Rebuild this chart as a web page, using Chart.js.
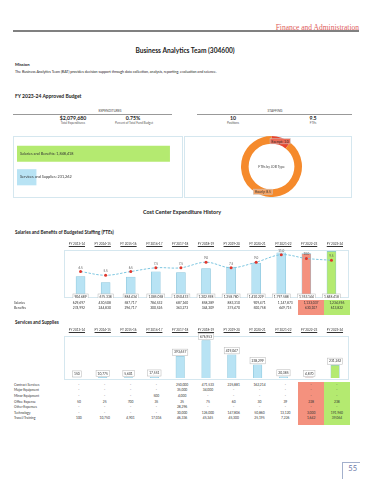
<!DOCTYPE html>
<html>
<head>
<meta charset="utf-8">
<script src="https://cdn.jsdelivr.net/npm/chart.js@4.4.1/dist/chart.umd.min.js"></script>
<style>
body{margin:0;background:#fff;font-family:Lato,'Open Sans',sans-serif;color:#222}
#page{position:relative;width:370px;height:480px;overflow:hidden}
.t{position:absolute;white-space:nowrap;line-height:1}
.c{transform:translateX(-50%)}
.b{font-weight:bold}
.rule{position:absolute;height:1px;background:#999}
.panel{position:absolute;border:1px solid #d5e7ef;box-sizing:border-box}
canvas{position:absolute}
.cell{position:absolute;box-sizing:border-box}
</style>
</head>
<body>
<div id="page">
  <div class="t" style="right:11px;top:22.5px;font:7.5px 'Liberation Serif',serif;color:#e0605c">Finance and Administration</div>
  <div class="rule" style="left:13px;top:30px;width:346px;height:2px;background:#808080"></div>
  <div class="t c b" style="left:185px;top:47px;font-size:6.6px">Business Analytics Team (304600)</div>
  <div class="t b" style="left:15px;top:63px;font-size:4.2px">Mission</div>
  <div class="t" style="left:15px;top:69.5px;font-size:3.6px">The Business Analytics Team (BAT) provides decision support through data collection, analysis, reporting, evaluation and science.</div>
  <div class="t b" style="left:15px;top:93.5px;font-size:5px">FY 2023-24 Approved Budget</div>

  <div class="t c" style="left:110px;top:109.5px;font-size:3.2px;color:#444">EXPENDITURES</div>
  <div class="rule" style="left:13px;top:114px;width:159px"></div>
  <div class="t c" style="left:275px;top:109.5px;font-size:3.2px;color:#444">STAFFING</div>
  <div class="rule" style="left:197px;top:114px;width:155px"></div>
  <div class="t c b" id="kTotal" style="left:73px;top:115.5px;font-size:5.2px"></div>
  <div class="t c b" style="left:133px;top:115.5px;font-size:5.2px">0.75%</div>
  <div class="t c b" style="left:233px;top:115.5px;font-size:5.2px">10</div>
  <div class="t c b" style="left:313px;top:115.5px;font-size:5.2px">9.5</div>
  <div class="t c" style="left:73px;top:122.3px;font-size:3px;color:#555">Total Expenditures</div>
  <div class="t c" style="left:134px;top:122.3px;font-size:3px;color:#555">Percent of Total Fund Budget</div>
  <div class="t c" style="left:233px;top:122.3px;font-size:3px;color:#555">Positions</div>
  <div class="t c" style="left:313px;top:122.3px;font-size:3px;color:#555">FTEs</div>

  <div class="panel" style="left:13px;top:136px;width:170px;height:62px"></div>
  <div class="panel" style="left:184px;top:136px;width:168px;height:62px"></div>
  <canvas id="budgetChart" width="169" height="61" style="left:13px;top:136px"></canvas>
  <canvas id="fteChart" width="168" height="61" style="left:184px;top:136px"></canvas>

  <div class="t c b" style="left:182px;top:210px;font-size:5.4px">Cost Center Expenditure History</div>
  <div class="t b" style="left:15px;top:229.5px;font-size:4.6px">Salaries and Benefits of Budgeted Staffing (FTEs)</div>
  <div class="t b" style="left:15px;top:319.5px;font-size:4.6px">Services and Supplies</div>

  <div class="panel" style="left:64px;top:250px;width:285px;height:48px"></div>
  <canvas id="salChart" width="284" height="52" style="left:64px;top:246px"></canvas>
  <div class="panel" style="left:64px;top:336px;width:285px;height:44px"></div>
  <canvas id="svcChart" width="284" height="50" style="left:64px;top:330px"></canvas>

  <div id="tables"></div>

  <div style="position:absolute;left:342px;top:462px;width:18px;height:17px;box-sizing:border-box;border:1px solid #a3b0cc;border-right:none;border-bottom:none"></div>
  <div class="t" style="right:13px;top:465px;font-size:7.5px;color:#6b78a8">55</div>
</div>

<script>
const years = ['FY 2013-14', 'FY 2014-15', 'FY 2015-16', 'FY 2016-17', 'FY 2017-18', 'FY 2018-19',
               'FY 2019-20', 'FY 2020-21', 'FY 2021-22', 'FY 2022-23', 'FY 2023-24'];

// salaries and benefits
const salaries = [629697, 430508, 587717, 784532, 687160, 858289, 883310, 909471, 1147873, 1133037, 1234596];
const benefits = [274992, 244830, 296717, 300526, 363273, 344309, 375470, 500758, 649715, 630107, 613822];
const ftes     = [6.5, 5.5, 6.5, 7.5, 7.5, 9, 7.5, 9, 11, 10, 9.5];

// services and supplies
const svcNames = ['Contract Services', 'Major Equipment', 'Minor Equipment', 'Office Expense',
                  'Other Expenses', 'Technology', 'Travel/Training'];
const contractServices = [null, null, null, null, 250000, 471533, 225881, 162214, null, null, null];
const majorEquipment   = [null, null, null, null, 35000, 34000, null, null, null, null, null];
const minorEquipment   = [null, null, null, 500, 4000, null, null, null, null, null, null];
const officeExpense    = [50, 25, 700, 35, 25, 75, 60, 30, 39, 228, 238];
const otherExpenses    = [null, null, null, null, 28296, null, null, null, null, null, null];
const technology       = [null, null, null, null, 30000, 126000, 147806, 50860, 13120, 3000, 191960];
const travelTraining   = [100, 10750, 4901, 17016, 46336, 45345, 45300, 25195, 7226, 1642, 39064];

// FY 2023-24 budget and staffing
const budgetCats = ['Salaries and Benefits', 'Services and Supplies'];
const fteTypes = ['Exempt', 'Hourly'];
const fteByType = [1, 8.5];

const fmt = v => (v == null || v === 0) ? '-' : v.toLocaleString('en-US');
const svcRows = [contractServices, majorEquipment, minorEquipment, officeExpense, otherExpenses, technology, travelTraining];
const salTotals = salaries.map((s, i) => s + benefits[i]);
const svcTotals = years.map((_, i) => svcRows.reduce((a, r) => a + (r[i] || 0), 0));
const budgetVals = [salTotals[10], svcTotals[10]];

document.getElementById('kTotal').textContent = '$' + fmt(budgetVals[0] + budgetVals[1]);

const BLUE = '#b8e3f4', BLUE_EDGE = '#86c3da', SALMON = '#f4917e', GREEN = '#b4ea70';
const barColors = years.map((_, i) => i === 9 ? SALMON : i === 10 ? GREEN : BLUE);
const FONT = 'Lato, "Open Sans", sans-serif';

// column geometry shared by charts and tables
const colX = i => 64 + 25.8 * (i + 0.5);

// header labels + tables
const tbl = document.getElementById('tables');
function add(html) { tbl.insertAdjacentHTML('beforeend', html); }
function headers(top) {
    years.forEach((y, i) => add(`<div class="t c" style="left:${colX(i)}px;top:${top}px;font-size:3.1px;color:#333;text-decoration:underline">${y}</div>`));
}
function table(names, rows, top, step) {
    const h = names.length * step + 4;
    add(`<div class="cell" style="left:${colX(9) - 11}px;top:${top - 2}px;width:25.8px;height:${h}px;background:${SALMON}"></div>`);
    add(`<div class="cell" style="left:${colX(10) - 11}px;top:${top - 2}px;width:25.8px;height:${h}px;background:${GREEN}"></div>`);
    names.forEach((n, r) => {
        const y = top + r * step;
        add(`<div class="t" style="left:14px;top:${y}px;font-size:3.3px;color:#333">${n}</div>`);
        rows[r].forEach((v, i) => add(`<div class="t c" style="left:${colX(i) + 2}px;top:${y}px;font-size:3.3px;color:#333">${fmt(v)}</div>`));
    });
}
headers(242.5);
headers(328.5);
table(['Salaries', 'Benefits'], [salaries, benefits], 301.5, 5.8);
table(svcNames, svcRows, 383.8, 5.6);

// small boxed value labels
const boxLabels = {
    id: 'boxLabels',
    afterDatasetsDraw(chart, args, o) {
        const ctx = chart.ctx;
        const ds = chart.data.datasets[o.ds];
        ctx.save();
        ctx.font = o.size + 'px ' + FONT;
        ctx.textAlign = 'center';
        ctx.textBaseline = 'middle';
        chart.getDatasetMeta(o.ds).data.forEach((el, i) => {
            const t = fmt(ds.data[i]);
            const w = ctx.measureText(t).width + 3, h = o.size + 2.8;
            const y = o.atBase ? el.base - h - 0.6 : el.y - h - 1;
            ctx.fillStyle = '#fff';
            ctx.strokeStyle = '#b5b5b5';
            ctx.lineWidth = 0.5;
            ctx.fillRect(el.x - w / 2, y, w, h);
            ctx.strokeRect(el.x - w / 2, y, w, h);
            ctx.fillStyle = '#333';
            ctx.fillText(t, el.x, y + h / 2 + 0.2);
        });
        ctx.restore();
    }
};

const pointLabels = {
    id: 'pointLabels',
    afterDatasetsDraw(chart) {
        const ctx = chart.ctx;
        ctx.save();
        ctx.font = '3px ' + FONT;
        ctx.fillStyle = '#555';
        ctx.textAlign = 'center';
        chart.getDatasetMeta(0).data.forEach((p, i) => ctx.fillText(ftes[i].toFixed(1), p.x, p.y - 3));
        ctx.restore();
    }
};

const quiet = { legend: { display: false }, tooltip: { enabled: false } };

// budget breakdown bars
new Chart(document.getElementById('budgetChart'), {
    type: 'bar',
    data: {
        labels: budgetCats,
        datasets: [{ data: budgetVals, backgroundColor: [GREEN, BLUE], barThickness: 15.5 }]
    },
    options: {
        indexAxis: 'y', responsive: false, animation: false,
        layout: { padding: { left: 4, right: 4, top: 6, bottom: 8 } },
        scales: { x: { display: false, min: 0, max: 1950000 }, y: { display: false } },
        plugins: quiet
    },
    plugins: [{
        id: 'inBar',
        afterDatasetsDraw(chart) {
            const ctx = chart.ctx;
            ctx.save();
            ctx.font = '3.8px ' + FONT;
            ctx.fillStyle = '#333';
            ctx.textBaseline = 'middle';
            chart.getDatasetMeta(0).data.forEach((el, i) =>
                ctx.fillText(budgetCats[i] + ': ' + fmt(budgetVals[i]), chart.chartArea.left + 3, el.y));
            ctx.restore();
        }
    }]
});

// FTEs by job type
new Chart(document.getElementById('fteChart'), {
    type: 'doughnut',
    data: {
        labels: fteTypes,
        datasets: [{ data: fteByType, backgroundColor: ['#e8452e', '#f58a2c'], borderWidth: 0 }]
    },
    options: {
        responsive: false, animation: false, cutout: '75%',
        layout: { padding: { left: 7 } },
        plugins: quiet
    },
    plugins: [{
        id: 'ringLabels',
        afterDatasetsDraw(chart) {
            const ctx = chart.ctx;
            ctx.save();
            ctx.font = '3.3px ' + FONT;
            ctx.textAlign = 'center';
            ctx.textBaseline = 'middle';
            chart.getDatasetMeta(0).data.forEach((a, i) => {
                const m = (a.startAngle + a.endAngle) / 2, r = (a.innerRadius + a.outerRadius) / 2;
                const x = a.x + r * Math.cos(m), y = a.y + r * Math.sin(m);
                const t = fteTypes[i] + ': ' + fteByType[i].toFixed(1);
                const w = ctx.measureText(t).width + 3;
                ctx.fillStyle = i === 0 ? '#ec6a55' : '#f3a264';
                ctx.strokeStyle = '#c9c9c9';
                ctx.lineWidth = 0.5;
                ctx.fillRect(x - w / 2, y - 2.6, w, 5.2);
                ctx.strokeRect(x - w / 2, y - 2.6, w, 5.2);
                ctx.fillStyle = '#333';
                ctx.fillText(t, x, y + 0.2);
            });
            const c = chart.getDatasetMeta(0).data[0];
            ctx.fillStyle = '#444';
            ctx.fillText('FTEs by JOB Type', c.x, c.y);
            ctx.restore();
        }
    }]
});

// salaries and benefits with FTE line
new Chart(document.getElementById('salChart'), {
    data: {
        labels: years,
        datasets: [
            { type: 'line', data: ftes, yAxisID: 'y1', order: 0, borderColor: '#7dc6e0', borderWidth: 1,
              borderDash: [2.5, 1.5], tension: 0.35, pointRadius: 1.5, pointBackgroundColor: '#e0362c',
              pointBorderWidth: 0 },
            { type: 'bar', data: salTotals, yAxisID: 'y', order: 1, backgroundColor: barColors,
              borderColor: BLUE_EDGE, borderWidth: { left: 0.6, right: 0.6, top: 0.6 }, barThickness: 9 }
        ]
    },
    options: {
        responsive: false, animation: false,
        layout: { padding: { top: 4, bottom: 1 } },
        scales: {
            x: { display: false },
            y: { display: false, min: 250000, max: 1900000 },
            y1: { display: false, min: 0.5, max: 12.25 }
        },
        plugins: Object.assign({ boxLabels: { ds: 1, size: 3.3, atBase: true } }, quiet)
    },
    plugins: [boxLabels, pointLabels]
});

// services and supplies totals
new Chart(document.getElementById('svcChart'), {
    type: 'bar',
    data: {
        labels: years,
        datasets: [{ data: svcTotals, backgroundColor: barColors, borderColor: BLUE_EDGE,
                     borderWidth: { left: 0.6, right: 0.6, top: 0.6 }, barThickness: 8.5 }]
    },
    options: {
        responsive: false, animation: false,
        layout: { padding: { top: 6, bottom: 2 } },
        scales: { x: { display: false }, y: { display: false, min: 0, max: 760000 } },
        plugins: Object.assign({ boxLabels: { ds: 0, size: 3.3, atBase: false } }, quiet)
    },
    plugins: [boxLabels]
});
</script>
</body>
</html>
